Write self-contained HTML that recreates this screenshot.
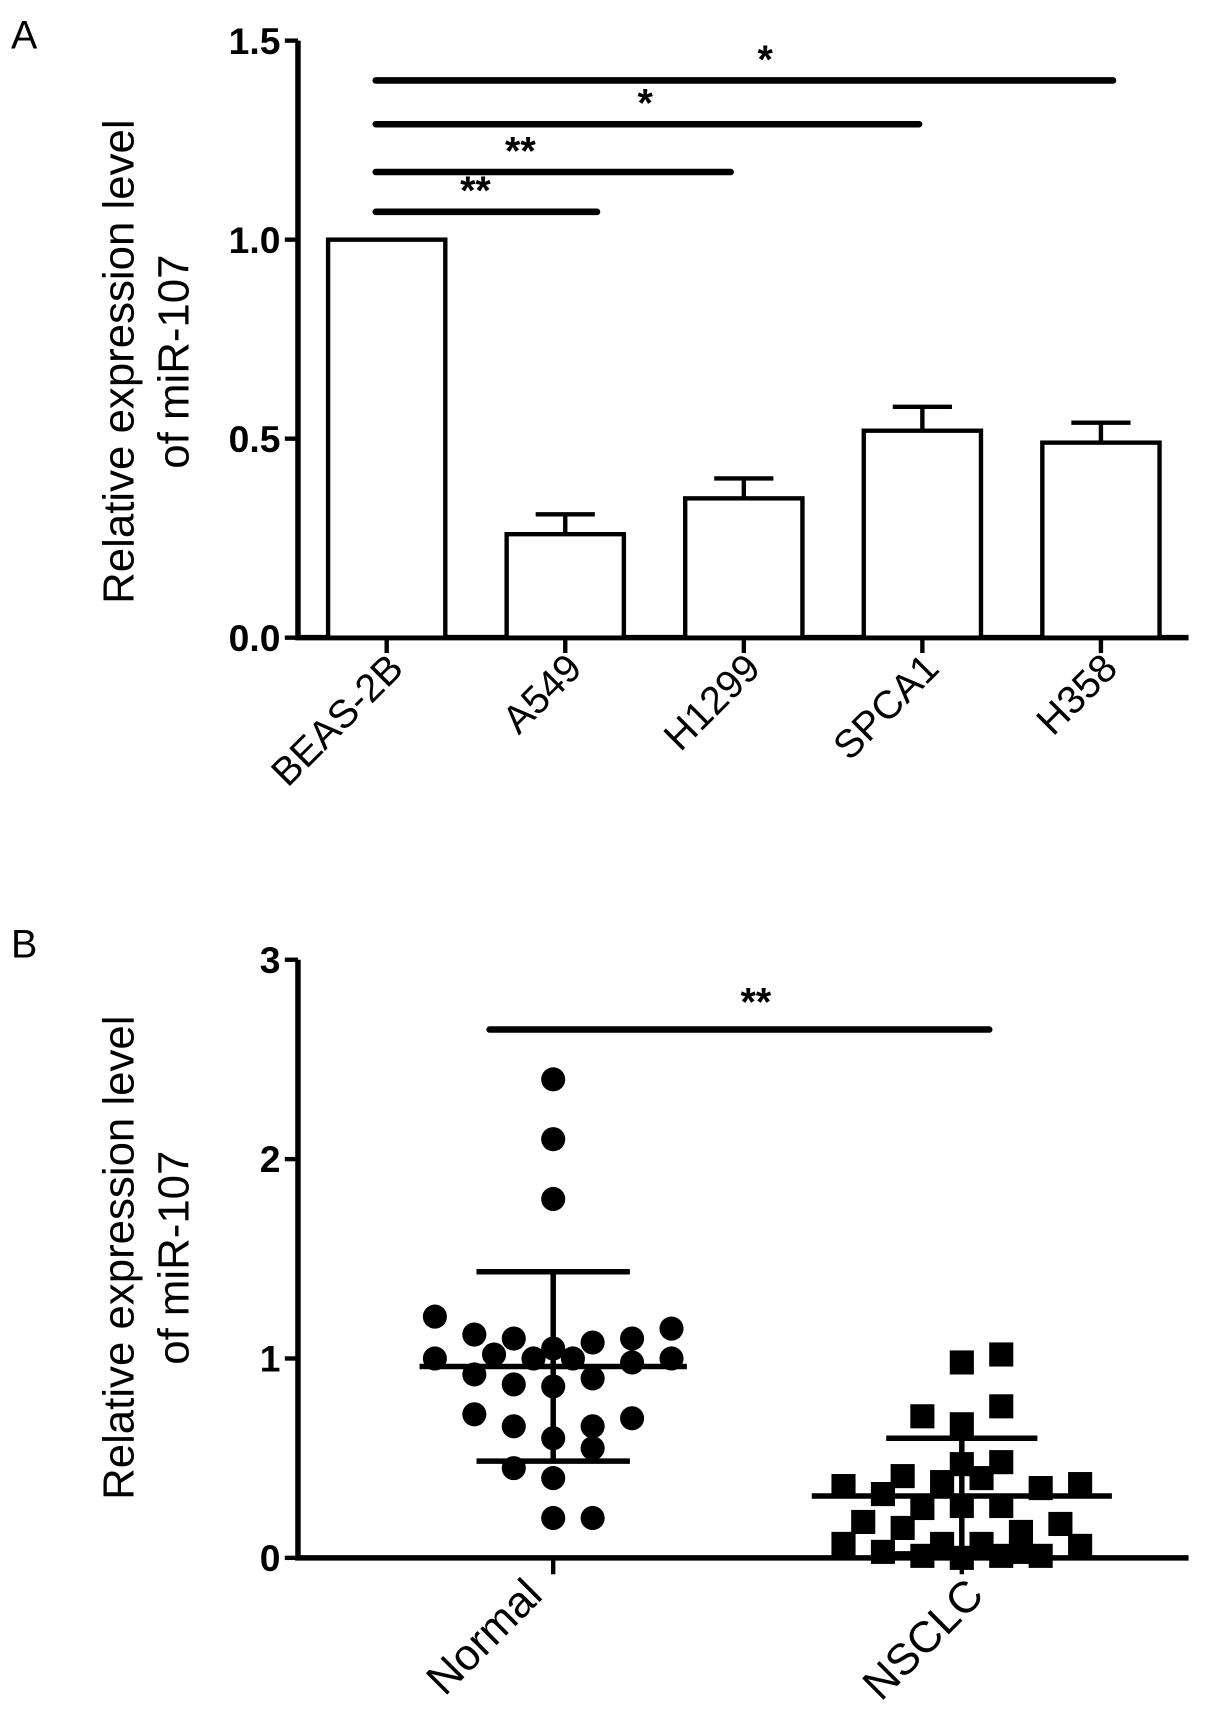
<!DOCTYPE html>
<html><head><meta charset="utf-8"><style>
html,body{margin:0;padding:0;background:#fff}
svg{display:block}
text{font-family:"Liberation Sans",Arial,sans-serif;fill:#000}
</style></head><body>
<svg id="fig" width="1205" height="1719" viewBox="0 0 1100 1569" xmlns="http://www.w3.org/2000/svg">
<g id="pa"></g>
<g id="pb"></g>
</svg>
<script>
// Panel A data
const catsA = ["BEAS-2B","A549","H1299","SPCA1","H358"];
const meansA = [1.0,0.26,0.35,0.52,0.49];
const errTopA = [1.0,0.31,0.40,0.58,0.54];
const ticksA = [0.0,0.5,1.0,1.5];
const tickLabelsA = ["0.0","0.5","1.0","1.5"];
const sigLevelsA = [1.07,1.17,1.29,1.40];
const sigTargetsA = [1,2,3,4];
const sigLabelsA = ["**","**","*","*"];
// Panel B data
const catsB = ["Normal","NSCLC"];
const normalVals = [2.40,2.10,1.80,1.21,1.12,1.10,1.08,1.10,1.15,1.0,1.02,1.0,1.05,1.0,0.98,1.0,0.92,0.87,0.86,0.90,0.72,0.70,0.66,0.66,0.60,0.55,0.45,0.40,0.20,0.20];
const normalJit = [0,0,0,-3,-2,-1,1,2,3,-3,-1.5,-0.5,0,0.5,2,3,-2,-1,0,1,-2,2,-1,1,0,1,-1,0,0,1];
const nsclcVals = [0.98,1.02,0.76,0.71,0.67,0.48,0.47,0.41,0.38,0.40,0.36,0.32,0.35,0.37,0.25,0.26,0.26,0.18,0.15,0.13,0.17,0.07,0.06,0.03,0.01,0.07,0.0,0.07,0.01,0.03,0.01];
const nsclcJit = [0,1,1,-1,0,1,0,-1.5,-0.5,0.5,-3,-2,2,3,-1,0,1,-2.5,-1.5,1.5,2.5,-3,3,-2,-1,-0.5,0,0.5,1,1.5,2];
const meanB = [0.96,0.31];
const sdB = [0.475,0.29];
const ticksB = [0,1,2,3];
const tickLabelsB = ["0","1","2","3"];
const sigB = 2.65;

// layout tweaks (not data)
const sigEndOffA = [29,-12,-3,11];
const sigLabelShiftA = [-10,-30,-2,19];

const NS="http://www.w3.org/2000/svg";
function mk(p,tag,attrs){const e=document.createElementNS(NS,tag);for(const k in attrs)e.setAttribute(k,attrs[k]);p.appendChild(e);return e;}

// ---------- Panel A ----------
const pa=document.getElementById('pa');
const yA=v=>582-(v/1.5)*(582-37);
const xA=i=>353+i*163;
let t=mk(pa,'text',{x:10,y:44,'font-size':36});t.textContent="A";


let ax=mk(pa,'path',{d:`M272 ${yA(1.5)} V582 H1085`,stroke:'#000','stroke-width':5,fill:'none'});


ticksA.forEach((v,i)=>{
  mk(pa,'line',{x1:260,x2:272,y1:yA(v),y2:yA(v),stroke:'#000','stroke-width':4});
  const l=mk(pa,'text',{x:256,y:yA(v)+12,'font-size':34,'font-weight':'bold','text-anchor':'end'});
  l.textContent=tickLabelsA[i];
  
  
});
catsA.forEach((c,i)=>{
  const x=xA(i),w=107;
  if(errTopA[i]>meansA[i]){
    mk(pa,'line',{x1:x,x2:x,y1:yA(meansA[i]),y2:yA(errTopA[i]),stroke:'#000','stroke-width':4});
    mk(pa,'line',{x1:x-27,x2:x+27,y1:yA(errTopA[i]),y2:yA(errTopA[i]),stroke:'#000','stroke-width':4});
  }
  const r=mk(pa,'rect',{x:x-w/2,y:yA(meansA[i]),width:w,height:582-yA(meansA[i]),fill:'#fff',stroke:'#000','stroke-width':4});
  
  
  mk(pa,'line',{x1:x,x2:x,y1:582,y2:596,stroke:'#000','stroke-width':4});
  const l=mk(pa,'text',{x:0,y:0,'font-size':36,'text-anchor':'end',transform:`translate(${x+17} ${612}) rotate(-45)`});
  l.textContent=c;
  
  
});
sigLevelsA.forEach((v,i)=>{
  const x1=xA(0)-10,x2=xA(sigTargetsA[i])+sigEndOffA[i];
  const s=mk(pa,'line',{x1:x1,x2:x2,y1:yA(v),y2:yA(v),stroke:'#000','stroke-width':6,'stroke-linecap':'round'});
  
  
  const l=mk(pa,'text',{x:(x1+x2)/2+sigLabelShiftA[i],y:yA(v)-7,'font-size':36,'font-weight':'bold','text-anchor':'middle'});
  l.textContent=sigLabelsA[i];
  
  
});
let yl=mk(pa,'text',{'font-size':40,'text-anchor':'middle',transform:'translate(122 330) rotate(-90)'});
yl.textContent="Relative expression level";


yl=mk(pa,'text',{'font-size':40,'text-anchor':'middle',transform:'translate(172 330) rotate(-90)'});
yl.textContent="of miR-107";



// ---------- Panel B ----------
const pb=document.getElementById('pb');
const yB=v=>1422-(v/3)*(1422-876);
const xB=i=>505+i*373;
const J=36;
t=mk(pb,'text',{x:10,y:874,'font-size':36});t.textContent="B";


ax=mk(pb,'path',{d:`M272 ${yB(3)} V1422 H1085`,stroke:'#000','stroke-width':5,fill:'none'});


ticksB.forEach((v,i)=>{
  mk(pb,'line',{x1:260,x2:272,y1:yB(v),y2:yB(v),stroke:'#000','stroke-width':4});
  const l=mk(pb,'text',{x:256,y:yB(v)+12,'font-size':34,'font-weight':'bold','text-anchor':'end'});
  l.textContent=tickLabelsB[i];
  
  
});
catsB.forEach((c,i)=>{
  const x=xB(i);
  mk(pb,'line',{x1:x,x2:x,y1:1422,y2:1437,stroke:'#000','stroke-width':4});
  const l=mk(pb,'text',{'font-size':40,'text-anchor':'end',transform:`translate(${x+(i?22:-8)} ${1458}) rotate(-45)`});
  l.textContent=c;
  
  
});
normalVals.forEach((v,i)=>{
  const c=mk(pb,'circle',{cx:xB(0)+normalJit[i]*J,cy:yB(v),r:11,fill:'#000'});
  
  
});
nsclcVals.forEach((v,i)=>{
  const r=mk(pb,'rect',{x:xB(1)+nsclcJit[i]*J-11,y:yB(v)-11,width:22,height:22,fill:'#000'});
  
  
});
[0,1].forEach(i=>{
  const x=xB(i),hw=i?137:122,cw=i?69:70;
  const m=mk(pb,'line',{x1:x-hw,x2:x+hw,y1:yB(meanB[i]),y2:yB(meanB[i]),stroke:'#000','stroke-width':5});
  
  
  mk(pb,'line',{x1:x,x2:x,y1:yB(Math.max(0,meanB[i]-sdB[i])),y2:yB(meanB[i]+sdB[i]),stroke:'#000','stroke-width':5});
  mk(pb,'line',{x1:x-cw,x2:x+cw,y1:yB(meanB[i]+sdB[i]),y2:yB(meanB[i]+sdB[i]),stroke:'#000','stroke-width':5});
  if(meanB[i]-sdB[i]>0) mk(pb,'line',{x1:x-cw,x2:x+cw,y1:yB(meanB[i]-sdB[i]),y2:yB(meanB[i]-sdB[i]),stroke:'#000','stroke-width':5});
});
let s=mk(pb,'line',{x1:447,x2:903,y1:yB(sigB),y2:yB(sigB),stroke:'#000','stroke-width':6,'stroke-linecap':'round'});


let sl=mk(pb,'text',{x:690,y:yB(sigB)-13,'font-size':36,'font-weight':'bold','text-anchor':'middle'});
sl.textContent="**";


yl=mk(pb,'text',{'font-size':40,'text-anchor':'middle',transform:'translate(122 1148) rotate(-90)'});
yl.textContent="Relative expression level";


yl=mk(pb,'text',{'font-size':40,'text-anchor':'middle',transform:'translate(172 1148) rotate(-90)'});
yl.textContent="of miR-107";


</script>
</body></html>
